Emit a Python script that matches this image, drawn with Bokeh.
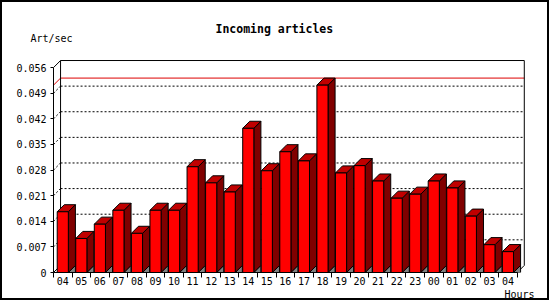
from bokeh.plotting import figure
from bokeh.models import FixedTicker, Range1d, Title
from bokeh.embed import file_html
from bokeh.resources import INLINE

# ---- data ----
hours = ["04", "05", "06", "07", "08", "09", "10", "11", "12", "13", "14", "15", "16",
         "17", "18", "19", "20", "21", "22", "23", "00", "01", "02", "03", "04"]
rates = [0.0166, 0.0093, 0.0132, 0.0170, 0.0107, 0.0170, 0.0170, 0.0289, 0.0245,
         0.0220, 0.0394, 0.0278, 0.0330, 0.0305, 0.0512, 0.0272, 0.0292, 0.0250,
         0.0203, 0.0214, 0.0250, 0.0231, 0.0154, 0.0076, 0.0057]
y_ticks = [0, 0.007, 0.014, 0.021, 0.028, 0.035, 0.042, 0.049, 0.056]
y_tick_labels = ["0", "0.007", "0.014", "0.021", "0.028", "0.035", "0.042", "0.049", "0.056"]
title_text = "Incoming articles"
y_unit = "Art/sec"
x_unit = "Hours"

# ---- geometry (pixels) ----
PX_PER_CAT = 18.4
Y_TOP = y_ticks[-1]
Y_PX = 203.0
DEPTH = 7.0
FRAME_W = 492
FRAME_H = 212
dxu = DEPTH / PX_PER_CAT
dyu = DEPTH * Y_TOP / Y_PX
half = 0.3
n = len(hours)
x0 = -0.5
x1 = n - 0.5
FONT = "DejaVu Sans Mono"

p = figure(width=549, height=300, output_backend="svg", toolbar_location=None,
           x_range=Range1d(x0, x0 + FRAME_W / PX_PER_CAT),
           y_range=Range1d(0, FRAME_H * Y_TOP / Y_PX),
           min_border_left=51, min_border_right=2, min_border_top=56, min_border_bottom=28)
p.styles = {"border": "2px solid black"}
p.outline_line_color = None
p.xgrid.visible = False
p.ygrid.visible = False
p.background_fill_color = "white"
p.border_fill_color = "white"

# titles
p.add_layout(Title(text=y_unit, align="left", offset=-23, standoff=30,
                   text_font=FONT, text_font_size="10px", text_font_style="normal",
                   text_color="black"), "above")
p.title.text = title_text
p.title.align = "left"
p.title.offset = 162
p.title.standoff = -40
p.title.text_font = FONT
p.title.text_font_size = "11.5px"
p.title.text_font_style = "bold"
p.title.text_color = "black"
p.add_layout(Title(text=x_unit, align="right", offset=15, standoff=2, vertical_align="top",
                   text_font=FONT, text_font_size="10px", text_font_style="normal",
                   text_color="black"), "below")

# back plane: dotted grid lines
grid_vals = y_ticks[1:-1]
p.segment(x0=[x0 + dxu] * len(grid_vals), y0=[v + dyu for v in grid_vals],
          x1=[x1 + dxu] * len(grid_vals), y1=[v + dyu for v in grid_vals],
          line_color="black", line_width=1, line_dash="2 2")
# left wall dotted diagonals
p.segment(x0=[x0] * len(grid_vals), y0=grid_vals,
          x1=[x0 + dxu] * len(grid_vals), y1=[v + dyu for v in grid_vals],
          line_color="black", line_width=1, line_dash="2 2")
# max line
vmax = max(rates)
p.segment(x0=[x0 + dxu, x0], y0=[vmax + dyu, vmax], x1=[x1 + dxu, x0 + dxu], y1=[vmax + dyu, vmax + dyu],
          line_color="#dd0000", line_width=1)
# back plane frame
p.line(x=[x0, x0 + dxu, x1 + dxu, x1 + dxu, x1], y=[Y_TOP, Y_TOP + dyu, Y_TOP + dyu, dyu, 0],
       line_color="black", line_width=1)
p.segment(x0=[x0 + dxu, x0], y0=[dyu, 0], x1=[x0 + dxu, x0 + dxu], y1=[Y_TOP + dyu, dyu],
          line_color="black", line_width=1)

xs = list(range(n))
# floor shadows
p.patches(xs=[[x + half, x + half + dxu, x + half + dxu] for x in xs],
          ys=[[0, dyu, 0] for _ in xs],
          fill_color="#808080", line_color="black", line_width=1)
# side faces
p.patches(xs=[[x + half, x + half + dxu, x + half + dxu, x + half] for x in xs],
          ys=[[0, dyu, v + dyu, v] for v in rates],
          fill_color="#800000", line_color="black", line_width=1)
# top faces
p.patches(xs=[[x - half, x - half + dxu, x + half + dxu, x + half] for x in xs],
          ys=[[v, v + dyu, v + dyu, v] for v in rates],
          fill_color="#c00000", line_color="black", line_width=1)
# front faces
p.quad(left=[x - half for x in xs], right=[x + half for x in xs], bottom=0, top=rates,
       fill_color="#ff0000", line_color="black", line_width=1)

# axes
p.yaxis.ticker = FixedTicker(ticks=y_ticks)
p.yaxis.major_label_overrides = {t: l for t, l in zip(y_ticks, y_tick_labels)}
p.yaxis.bounds = (0, Y_TOP)
p.yaxis.major_tick_out = 3
p.yaxis.major_tick_in = 0
p.yaxis.minor_tick_out = 0
p.yaxis.minor_tick_in = 0
p.yaxis.major_label_standoff = 4
p.yaxis.major_label_text_font = FONT
p.yaxis.major_label_text_font_size = "10px"
p.yaxis.major_label_text_color = "black"
p.yaxis.axis_line_color = "black"

p.xaxis.ticker = FixedTicker(ticks=xs, minor_ticks=[x - 0.5 for x in range(n + 1)])
p.xaxis.major_label_overrides = {i: h for i, h in enumerate(hours)}
p.xaxis.bounds = (x0, x1)
p.xaxis.major_tick_out = 0
p.xaxis.major_tick_in = 0
p.xaxis.minor_tick_out = 5
p.xaxis.minor_tick_in = 0
p.xaxis.major_label_standoff = -1
p.xaxis.major_label_text_font = FONT
p.xaxis.major_label_text_font_size = "10px"
p.xaxis.major_label_text_color = "black"
p.xaxis.axis_line_color = "black"

open("out.html", "w").write(file_html(p, INLINE))
